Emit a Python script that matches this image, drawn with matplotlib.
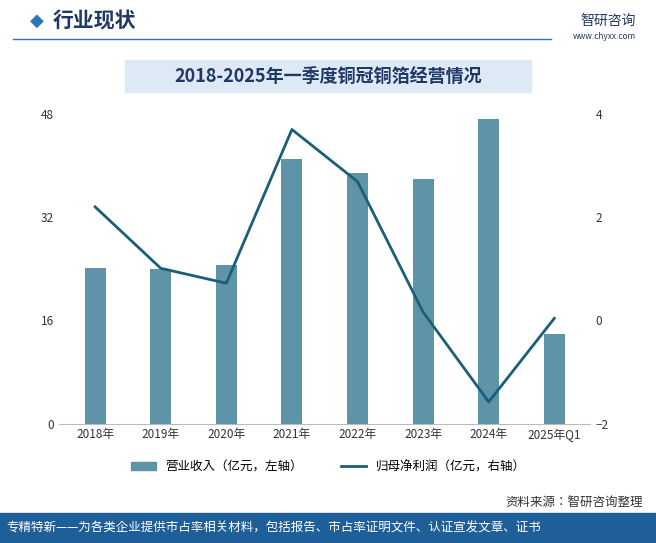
import matplotlib.pyplot as plt
import numpy as np
from matplotlib import font_manager
from matplotlib.lines import Line2D
from matplotlib.patches import Patch, Rectangle

# make sure a CJK font is registered
cjk = [f for f in font_manager.findSystemFonts() if 'CJK' in f or 'cjk' in f.lower()]
for f in cjk:
    try:
        font_manager.fontManager.addfont(f)
    except Exception:
        pass
names = sorted({font_manager.FontProperties(fname=f).get_name() for f in cjk})
plt.rcParams['font.family'] = names[:1] + ['Noto Sans CJK SC', 'DejaVu Sans']

years = ['2018年', '2019年', '2020年', '2021年', '2022年', '2023年', '2024年', '2025年Q1']
revenue = [24.1, 24.0, 24.6, 41.0, 38.9, 38.0, 47.3, 13.9]
profit = [2.20, 1.01, 0.72, 3.70, 2.69, 0.16, -1.58, 0.04]

bar_c = '#5e93a8'
line_c = '#1a5f7a'

fig = plt.figure(figsize=(6.56, 5.43), dpi=100)

# header
fig.text(0.045, 0.962, '◆', color='#2e75b6', fontsize=13, va='center', family='DejaVu Sans')
fig.text(0.08, 0.962, '行业现状', color='#1f3864', fontsize=15, va='center', weight='bold')
fig.add_artist(Line2D([0.02, 0.84], [0.928, 0.928], color='#2e75b6', lw=1))
fig.text(0.97, 0.962, '智研咨询', color='#1f3864', fontsize=10, ha='right', va='center')
fig.text(0.97, 0.932, 'www.chyxx.com', color='#1f3864', fontsize=6, ha='right', va='center')

# title band
fig.add_artist(Rectangle((0.19, 0.83), 0.62, 0.06, transform=fig.transFigure, color='#dde9f5', zorder=0))
fig.text(0.5, 0.86, '2018-2025年一季度铜冠铜箔经营情况', color='#1f3864', fontsize=13,
         ha='center', va='center', weight='bold')

ax = fig.add_axes([0.09, 0.22, 0.81, 0.57])
x = np.arange(len(years))
ax.bar(x, revenue, width=0.32, color=bar_c)
ax.set_ylim(0, 48)
ax.set_yticks([0, 16, 32, 48])
ax.set_xlim(-0.55, len(years) - 0.45)
ax.set_xticks(x)
ax.set_xticklabels(years)
for s in ['top', 'right', 'left']:
    ax.spines[s].set_visible(False)
ax.spines['bottom'].set_color('#bbbbbb')
ax.tick_params(axis='both', length=0, labelsize=8.5, colors='#333333')

ax2 = ax.twinx()
ax2.plot(x, profit, color=line_c, lw=2)
ax2.set_ylim(-2, 4)
ax2.set_yticks([-2, 0, 2, 4])
for s in ax2.spines.values():
    s.set_visible(False)
ax2.tick_params(axis='y', length=0, labelsize=8.5, colors='#333333')

handles = [Patch(color=bar_c), Line2D([0], [0], color=line_c, lw=2)]
fig.legend(handles, ['营业收入（亿元，左轴）', '归母净利润（亿元，右轴）'], loc='center',
           bbox_to_anchor=(0.5, 0.14), ncol=2, frameon=False, fontsize=9, columnspacing=3)

fig.text(0.98, 0.075, '资料来源：智研咨询整理', color='#333333', fontsize=9, ha='right', va='center')
fig.add_artist(Rectangle((0, 0), 1, 0.055, transform=fig.transFigure, color='#1f5f99', zorder=0))
fig.text(0.01, 0.027, '专精特新——为各类企业提供市占率相关材料，包括报告、市占率证明文件、认证宣发文章、证书',
         color='white', fontsize=9, va='center')

fig.savefig('out.png')
